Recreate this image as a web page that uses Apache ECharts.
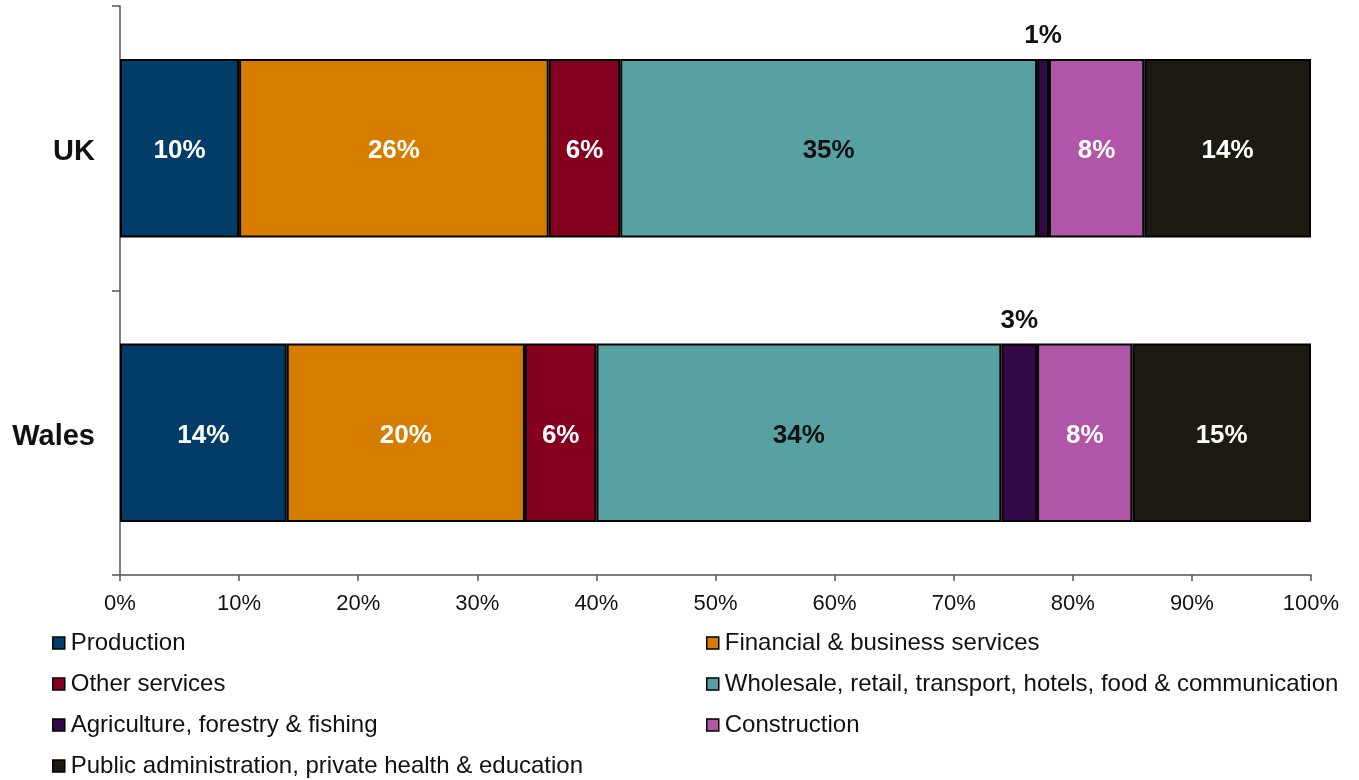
<!DOCTYPE html>
<html>
<head>
<meta charset="utf-8">
<script src="https://cdn.jsdelivr.net/npm/echarts@6/dist/echarts.min.js"></script>
<style>
  html, body { margin: 0; padding: 0; background: #fff; }
  #chart { width: 1359px; height: 780px; }
</style>
</head>
<body>
<div id="chart"></div>
<script>
// Regions shown as bars (top to bottom)
const regions = ['UK', 'Wales'];

// Share of output by sector, percent
const production   = [10, 14];
const financial    = [26, 20];
const otherServ    = [6, 6];
const wholesale    = [35, 34];
const agriculture  = [1, 3];
const construction = [8, 8];
const publicAdmin  = [14, 15];

const xTicks = { min: 0, max: 100, step: 10 };

const sectors = [
  { name: 'Production', data: production, color: '#023d6a', label: '#ffffff' },
  { name: 'Financial & business services', data: financial, color: '#d67d00', label: '#ffffff' },
  { name: 'Other services', data: otherServ, color: '#85001f', label: '#ffffff' },
  { name: 'Wholesale, retail, transport, hotels, food & communication', data: wholesale, color: '#57a1a3', label: '#111111' },
  { name: 'Agriculture, forestry & fishing', data: agriculture, color: '#330a47', label: '#111111', outside: true },
  { name: 'Construction', data: construction, color: '#b055a8', label: '#ffffff' },
  { name: 'Public administration, private health & education', data: publicAdmin, color: '#1d1a12', label: '#ffffff' }
];

const FONT = 'Liberation Sans, Arial, sans-serif';

const series = sectors.map(s => ({
  name: s.name,
  type: 'bar',
  stack: 'total',
  barWidth: '62.8%',
  data: s.data,
  itemStyle: { color: s.color, borderColor: '#000', borderWidth: 2 },
  label: {
    show: true,
    position: s.outside ? 'top' : 'inside',
    distance: s.outside ? 13 : 5,
    offset: [0, 3],
    formatter: '{c}%',
    color: s.label,
    fontFamily: FONT,
    fontWeight: 'bold',
    fontSize: 26
  },
  emphasis: { disabled: true }
}));

// Two legend columns, read row by row in sector order
const leftNames = [sectors[0].name, sectors[2].name, sectors[4].name, sectors[6].name];
const rightNames = [sectors[1].name, sectors[3].name, sectors[5].name];

const legendCommon = {
  orient: 'vertical',
  icon: 'rect',
  padding: 0,
  itemWidth: 12,
  itemHeight: 12,
  itemGap: 17,
  itemStyle: { borderColor: '#000', borderWidth: 1.5 },
  textStyle: { fontFamily: FONT, fontSize: 24, color: '#111', padding: [0, 0, 0, 1] },
  selectedMode: false
};

const chart = echarts.init(document.getElementById('chart'), null, { renderer: 'canvas' });
chart.setOption({
  animation: false,
  backgroundColor: '#ffffff',
  grid: { left: 120, right: 48, top: 6, bottom: 205, containLabel: false },
  legend: [
    Object.assign({}, legendCommon, { data: leftNames, left: 52, top: 631 }),
    Object.assign({}, legendCommon, { data: rightNames, left: 706, top: 631 })
  ],
  xAxis: {
    type: 'value',
    min: xTicks.min,
    max: xTicks.max,
    interval: xTicks.step,
    axisLine: { show: true, lineStyle: { color: '#555', width: 1.5 } },
    axisTick: { show: true, length: 6, lineStyle: { color: '#555', width: 1.5 } },
    splitLine: { show: false },
    axisLabel: { formatter: '{value}%', fontFamily: FONT, fontSize: 22, color: '#111', margin: 18 }
  },
  yAxis: {
    type: 'category',
    data: regions,
    inverse: true,
    axisLine: { show: true, lineStyle: { color: '#555', width: 1.5 } },
    axisTick: { show: true, length: 8, lineStyle: { color: '#555', width: 1.5 } },
    axisLabel: {
      margin: 25,
      formatter: v => '{r|' + v + '}',
      rich: {
        r: { fontFamily: FONT, fontSize: 29, fontWeight: 'bold', color: '#111', padding: [8, 0, 0, 0] }
      }
    }
  },
  series: series
});
</script>
</body>
</html>
